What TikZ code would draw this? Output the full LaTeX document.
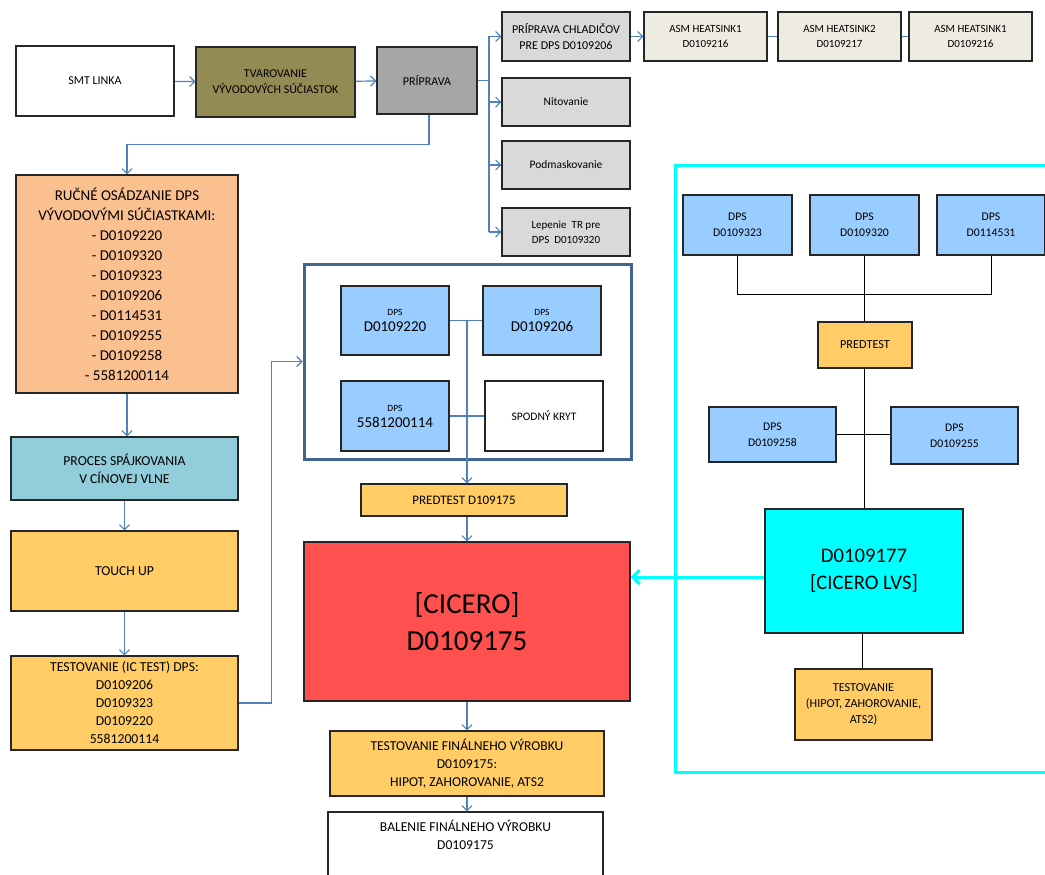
\documentclass[tikz,border=0pt]{standalone}
\usepackage{fontspec}
\setmainfont{Carlito}
\usetikzlibrary{arrows.meta}
\definecolor{conn}{HTML}{4F81BD}
\definecolor{lgray}{HTML}{D9D9D9}
\definecolor{asmc}{HTML}{EEECE1}
\definecolor{dpsblue}{HTML}{99CCFF}
\definecolor{peach}{HTML}{FAC090}
\definecolor{procblue}{HTML}{92CDDC}
\definecolor{yell}{HTML}{FFCC66}
\definecolor{redc}{HTML}{FF5050}
\definecolor{cyanc}{HTML}{00FFFF}
\definecolor{olive}{HTML}{948A54}
\definecolor{midgray}{HTML}{A6A6A6}
\definecolor{framec}{HTML}{41658F}
\tikzset{
  bx/.style={draw=black!85, line width=1.1pt, align=center, inner sep=0pt, font=\fontsize{11.5}{15}\selectfont},
  flow/.style={draw=conn, line width=1.2pt, -{Straight Barb[length=5pt,width=10pt]}},
  flowline/.style={draw=conn, line width=1.2pt},
  blk/.style={draw=black, line width=1pt},
}
\begin{document}
\begin{tikzpicture}[x=1pt,y=-1pt]
\useasboundingbox (0,0) rectangle (1045,875);
\fill[white] (0,0) rectangle (1045,875);

% top row
\node[bx, fill=white, minimum width=158pt, minimum height=70pt, font=\fontsize{12}{16}\selectfont] (smt) at (95,81) {SMT LINKA};
\node[bx, fill=olive, minimum width=159pt, minimum height=70pt, font=\fontsize{12}{16}\selectfont] (tvar) at (275.5,82) {TVAROVANIE\\VÝVODOVÝCH SÚČIASTOK};
\node[bx, fill=midgray, minimum width=100pt, minimum height=67pt, font=\fontsize{12}{16}\selectfont] (prip) at (427,80.5) {PRÍPRAVA};

\node[bx, fill=lgray, minimum width=128pt, minimum height=49pt, font=\fontsize{12}{16}\selectfont] (chlad) at (566,36.5) {PRÍPRAVA CHLADIČOV\\PRE DPS D0109206};
\node[bx, fill=lgray, minimum width=128pt, minimum height=48pt] (nit) at (566,102) {Nitovanie};
\node[bx, fill=lgray, minimum width=128pt, minimum height=48pt] (podm) at (566,165) {Podmaskovanie};
\node[bx, fill=lgray, minimum width=128pt, minimum height=48pt, font=\fontsize{11}{15}\selectfont] (lep) at (566,232) {Lepenie~ TR pre\\DPS~ D0109320};

\node[bx, fill=asmc, minimum width=123pt, minimum height=49pt, font=\fontsize{11}{15}\selectfont] (asm1) at (705.5,36.5) {ASM HEATSINK1\\D0109216};
\node[bx, fill=asmc, minimum width=123pt, minimum height=49pt, font=\fontsize{11}{15}\selectfont] (asm2) at (839.5,36.5) {ASM HEATSINK2\\D0109217};
\node[bx, fill=asmc, minimum width=123pt, minimum height=49pt, font=\fontsize{11}{15}\selectfont] (asm3) at (970.5,36.5) {ASM HEATSINK1\\D0109216};

% left column
\node[bx, fill=peach, minimum width=222pt, minimum height=218pt, font=\fontsize{15}{20}\selectfont] (rucne) at (127,284) {RUČNÉ OSÁDZANIE DPS\\VÝVODOVÝMI SÚČIASTKAMI:\\- D0109220\\- D0109320\\- D0109323\\- D0109206\\- D0114531\\- D0109255\\- D0109258\\- 5581200114};
\node[bx, fill=procblue, minimum width=227pt, minimum height=63pt, font=\fontsize{13.7}{18}\selectfont] (proces) at (124.5,468.5) {PROCES SPÁJKOVANIA\\V CÍNOVEJ VLNE};
\node[bx, fill=yell, minimum width=227pt, minimum height=80pt, font=\fontsize{13.7}{18}\selectfont] (touch) at (124.5,571) {TOUCH UP};
\node[bx, fill=yell, minimum width=227pt, minimum height=94pt, font=\fontsize{13.7}{18}\selectfont] (testic) at (124.5,703) {TESTOVANIE (IC TEST) DPS:\\D0109206\\D0109323\\D0109220\\5581200114};

% middle frame
\node[draw=framec, line width=3pt, minimum width=327pt, minimum height=195pt, inner sep=0pt] (frame) at (467.5,361.5) {};
\node[bx, fill=dpsblue, minimum width=108pt, minimum height=69pt] (d220) at (395,320.5) {{\fontsize{9.5}{10}\selectfont DPS}\\[1pt]{\fontsize{15}{17}\selectfont D0109220}};
\node[bx, fill=dpsblue, minimum width=118pt, minimum height=69pt] (d206) at (542,320.5) {{\fontsize{9.5}{10}\selectfont DPS}\\[1pt]{\fontsize{15}{17}\selectfont D0109206}};
\node[bx, fill=dpsblue, minimum width=108pt, minimum height=70pt] (d558) at (395,416) {{\fontsize{9.5}{10}\selectfont DPS}\\[1pt]{\fontsize{15}{17}\selectfont 5581200114}};
\node[bx, fill=white, minimum width=118pt, minimum height=70pt, font=\fontsize{11.5}{15}\selectfont] (kryt) at (544,416) {SPODNÝ KRYT};
\coordinate (j1) at (467,320.5);

\node[bx, fill=yell, minimum width=206pt, minimum height=32pt, font=\fontsize{13}{16}\selectfont] (pt175) at (464,500) {PREDTEST D109175};
\node[bx, fill=redc, minimum width=326pt, minimum height=159pt, font=\fontsize{29}{37}\selectfont] (cicero) at (467,621.5) {[CICERO]\\D0109175};
\node[bx, fill=yell, minimum width=274pt, minimum height=65pt, font=\fontsize{13.6}{18}\selectfont] (testfin) at (467,763.5) {TESTOVANIE FINÁLNEHO VÝROBKU\\D0109175:\\HIPOT, ZAHOROVANIE, ATS2};
\node[bx, fill=white, minimum width=275pt, minimum height=78pt, font=\fontsize{13.6}{18}\selectfont] (balenie) at (465.5,851) {BALENIE FINÁLNEHO VÝROBKU\\D0109175\\[14pt]};

% right cyan area
\draw[draw=cyanc, line width=3pt] (1070,165) -- (675,165) -- (675,772) -- (1070,772);
\node[bx, fill=dpsblue, minimum width=109pt, minimum height=60pt, font=\fontsize{11.7}{16}\selectfont] (c323) at (737.5,225) {DPS\\D0109323};
\node[bx, fill=dpsblue, minimum width=109pt, minimum height=60pt, font=\fontsize{11.7}{16}\selectfont] (c320) at (864.5,225) {DPS\\D0109320};
\node[bx, fill=dpsblue, minimum width=108pt, minimum height=60pt, font=\fontsize{11.7}{16}\selectfont] (c531) at (991,225) {DPS\\D0114531};
\node[bx, fill=yell, minimum width=94pt, minimum height=46pt, font=\fontsize{12.3}{16}\selectfont] (predtest) at (865,345) {PREDTEST};
\node[bx, fill=dpsblue, minimum width=127pt, minimum height=55pt, font=\fontsize{11.7}{16}\selectfont] (c258) at (772.5,434.5) {DPS\\D0109258};
\node[bx, fill=dpsblue, minimum width=127pt, minimum height=57pt, font=\fontsize{11.7}{16}\selectfont] (c255) at (954.5,435.5) {DPS\\D0109255};
\node[bx, fill=cyanc, minimum width=198pt, minimum height=124pt, font=\fontsize{20.7}{27}\selectfont] (lvs) at (864,571) {D0109177\\{}[CICERO LVS]};
\node[bx, fill=yell, minimum width=137pt, minimum height=71pt, font=\fontsize{12.2}{16}\selectfont] (testhip) at (863.5,704.5) {TESTOVANIE\\(HIPOT, ZAHOROVANIE,\\ATS2)};

% connectors top
\draw[flow] (smt) -- (tvar);
\draw[flow] (tvar) -- (prip);
\draw[flow] ([xshift=2pt]prip.south) -- ++(0,30) -| (rucne.north);
\coordinate (br) at (489,80.5);
\draw[flowline] (prip.east) -- (br);
\draw[flowline] (br |- chlad.west) -- (br |- lep.west);
\draw[flow] (br |- chlad.west) -- (chlad.west);
\draw[flow] (br |- nit.west) -- (nit.west);
\draw[flow] (br |- podm.west) -- (podm.west);
\draw[flow] (br |- lep.west) -- (lep.west);
\draw[flow] (chlad) -- (asm1);
\draw[flowline] (asm1) -- (asm2);
\draw[flowline] (asm2) -- (asm3);

% left column connectors
\draw[flow] (rucne.south) -- (rucne.south |- proces.north);
\draw[flow] (proces.south) -- (touch.north);
\draw[flow] (touch.south) -- (testic.north);
\draw[flow] (testic.east) -- ++(33,0) |- (frame.west);

% middle connectors
\draw[flowline] (d220.east) -- (d206.west);
\draw[flowline] (d558.east) -- (kryt.west);
\draw[flow] (j1) -- (j1 |- pt175.north);
\draw[flow] (pt175.south -| j1) -- (j1 |- cicero.north);
\draw[flow] (cicero.south -| j1) -- (j1 |- testfin.north);
\draw[flow] (testfin.south -| j1) -- (j1 |- balenie.north);

% right connectors
\draw[blk] (c323.south) -- ++(0,39) -| (c531.south);
\draw[blk] (c320.south) -- (c320.south |- predtest.north);
\draw[blk] (predtest.south -| 864,0) -- (lvs.north);
\draw[blk] (c258.east) -- (c258.east -| c255.west);
\draw[blk] (lvs.south -| 862,0) -- (testhip.north -| 862,0);
\draw[draw=cyanc, line width=3pt, -{Straight Barb[length=7pt,width=14pt]}] ([yshift=-6pt]lvs.west) -- ([yshift=-6pt]lvs.west -| cicero.east);
\end{tikzpicture}
\end{document}
